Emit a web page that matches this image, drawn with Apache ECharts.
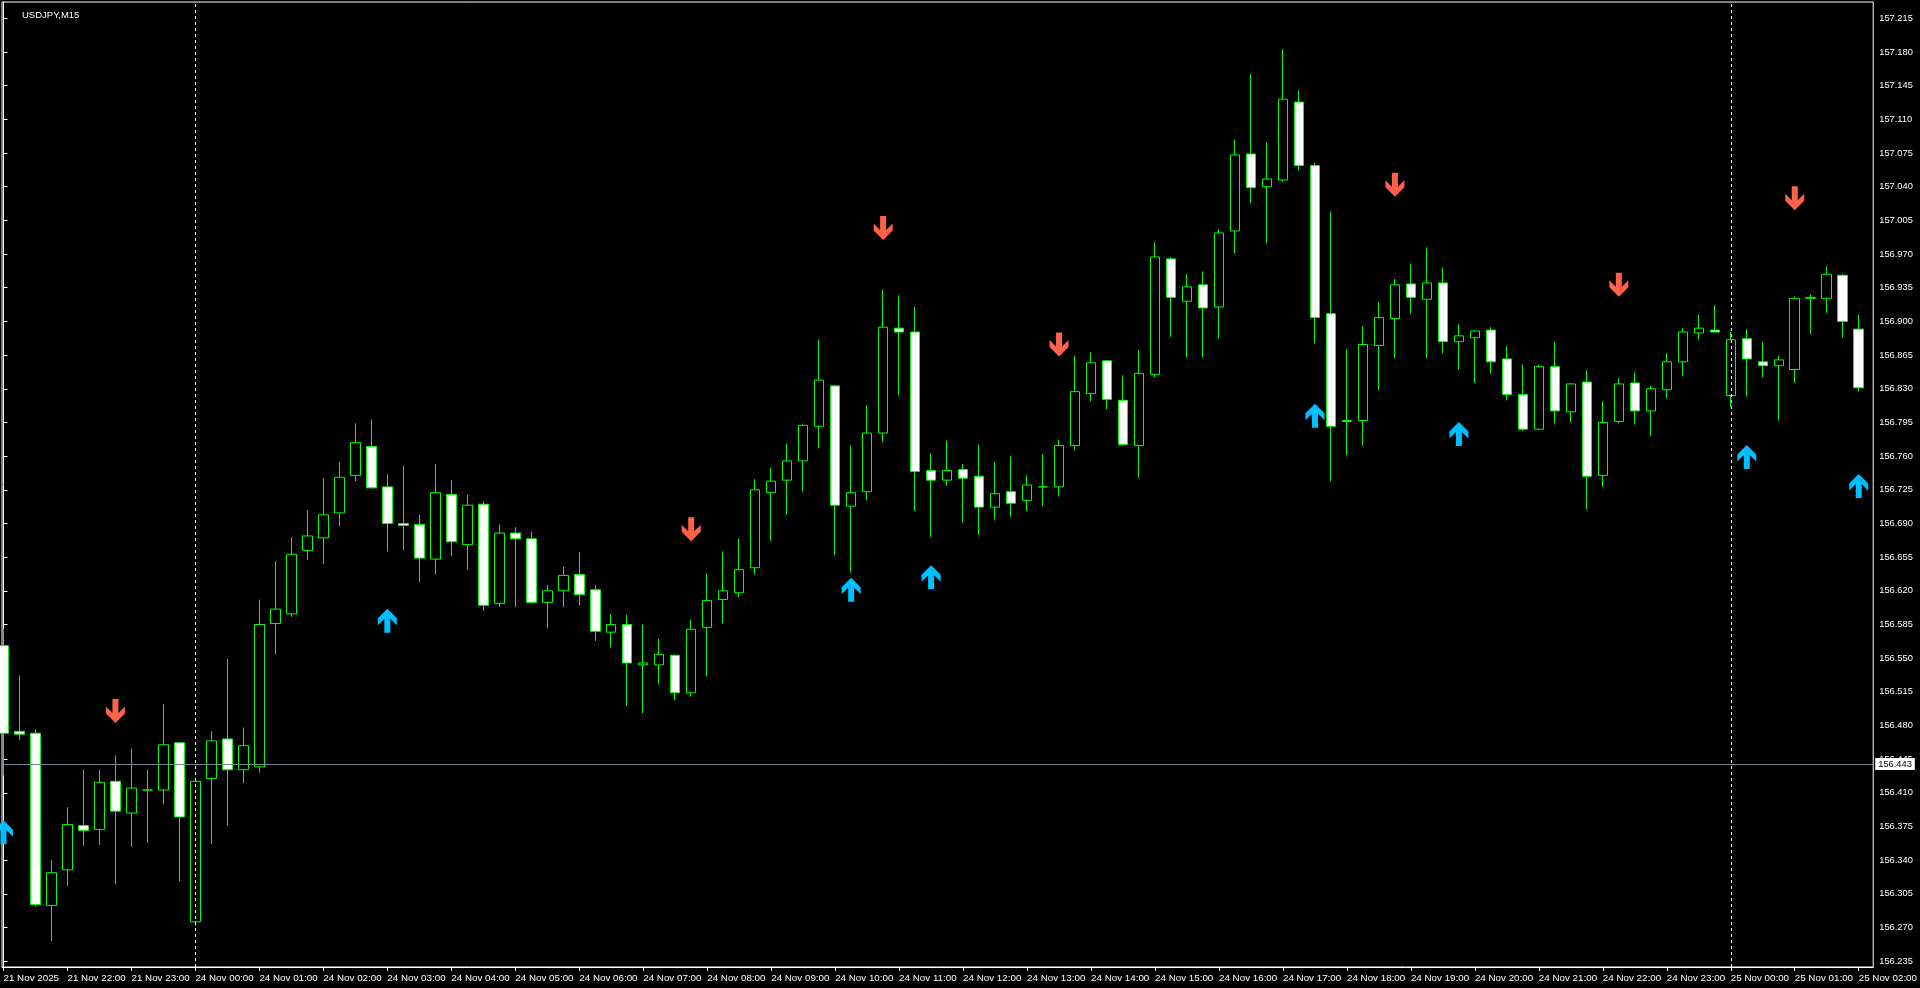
<!DOCTYPE html>
<html>
<head>
<meta charset="utf-8">
<script src="https://cdn.jsdelivr.net/npm/echarts@6/dist/echarts.min.js"></script>
<style>
html,body{margin:0;padding:0;background:#000;}
#chart{width:1920px;height:988px;}
</style>
</head>
<body>
<div id="chart"></div>
<script>
// ---- data (15-minute bars, index 0 = 21 Nov 21:00) ----
const opens = [156.563,156.474,156.472,156.293,156.330,156.376,156.372,156.422,156.389,156.413,
156.413,156.462,156.276,156.425,156.466,156.434,156.437,156.586,156.596,156.662,
156.675,156.701,156.740,156.770,156.728,156.690,156.689,156.653,156.720,156.668,
156.710,156.607,156.680,156.674,156.608,156.620,156.637,156.621,156.577,156.585,
156.543,156.543,156.553,156.514,156.582,156.611,156.618,156.644,156.722,156.735,
156.755,156.791,156.833,156.708,156.723,156.784,156.893,156.889,156.745,156.735,
156.746,156.739,156.707,156.723,156.714,156.728,156.728,156.771,156.825,156.859,
156.818,156.771,156.845,156.965,156.921,156.938,156.915,156.994,157.074,157.040,
157.047,157.128,157.062,156.908,156.796,156.797,156.875,156.903,156.939,156.923,
156.940,156.879,156.883,156.891,156.861,156.824,156.788,156.853,156.806,156.837,
156.740,156.796,156.836,156.807,156.829,156.858,156.888,156.891,156.823,156.882,
156.858,156.854,156.850,156.924,156.924,156.948,156.892];
const highs = [156.581,156.532,156.476,156.340,156.395,156.434,156.434,156.449,156.456,156.434,
156.502,156.463,156.425,156.474,156.549,156.478,156.611,156.651,156.676,156.704,
156.737,156.754,156.794,156.798,156.741,156.750,156.699,156.752,156.735,156.720,
156.713,156.689,156.686,156.681,156.626,156.645,156.660,156.626,156.596,156.595,
156.585,156.570,156.554,156.590,156.638,156.661,156.674,156.736,156.748,156.773,
156.793,156.881,156.834,156.771,156.813,156.933,156.927,156.915,156.763,156.776,
156.752,156.772,156.754,156.760,156.740,156.762,156.777,156.864,156.868,156.860,
156.844,156.870,156.982,156.967,156.949,156.952,156.996,157.089,157.157,157.086,
157.183,157.140,157.065,157.014,156.871,156.895,156.920,156.944,156.960,156.977,
156.956,156.897,156.891,156.894,156.874,156.855,156.855,156.879,156.836,156.849,
156.817,156.841,156.847,156.833,156.867,156.893,156.907,156.917,156.889,156.892,
156.879,156.864,156.926,156.928,156.957,156.949,156.907];
const lows = [156.428,156.465,156.292,156.256,156.313,156.355,156.356,156.315,156.354,156.358,
156.398,156.318,156.272,156.357,156.376,156.420,156.431,156.554,156.593,156.652,
156.648,156.687,156.734,156.726,156.661,156.662,156.629,156.637,156.656,156.642,
156.599,156.603,156.603,156.607,156.581,156.603,156.605,156.568,156.561,156.500,
156.493,156.523,156.506,156.510,156.531,156.586,156.613,156.637,156.672,156.699,
156.723,156.768,156.657,156.639,156.714,156.775,156.823,156.703,156.676,156.729,
156.691,156.678,156.694,156.697,156.703,156.708,156.718,156.766,156.817,156.809,
156.771,156.738,156.842,156.884,156.863,156.863,156.882,156.971,157.023,156.981,
157.045,157.057,156.877,156.734,156.761,156.771,156.829,156.862,156.908,156.862,
156.867,156.850,156.836,156.846,156.818,156.786,156.787,156.794,156.795,156.705,
156.728,156.794,156.793,156.781,156.820,156.843,156.881,156.889,156.811,156.822,
156.842,156.797,156.836,156.887,156.909,156.883,156.827];
const closes = [156.472,156.471,156.294,156.327,156.377,156.371,156.421,156.391,156.415,156.413,
156.460,156.385,156.422,156.464,156.434,156.459,156.585,156.601,156.658,156.677,
156.699,156.738,156.774,156.727,156.690,156.688,156.654,156.722,156.671,156.709,
156.605,156.680,156.674,156.608,156.620,156.636,156.616,156.578,156.585,156.545,
156.545,156.554,156.514,156.580,156.610,156.620,156.642,156.725,156.734,156.755,
156.792,156.839,156.709,156.722,156.784,156.894,156.889,156.744,156.735,156.745,
156.737,156.707,156.721,156.711,156.730,156.728,156.771,156.827,156.857,156.819,
156.772,156.846,156.967,156.925,156.936,156.914,156.992,157.073,157.039,157.048,
157.131,157.062,156.904,156.791,156.797,156.876,156.904,156.938,156.925,156.940,
156.879,156.885,156.890,156.858,156.824,156.788,156.853,156.807,156.835,156.739,
156.795,156.835,156.807,156.830,156.858,156.889,156.893,156.889,156.881,156.861,
156.854,156.860,156.924,156.925,156.949,156.900,156.831];

// signal arrows: [bar index, price]
const upArrows = [[0,156.369],[24,156.589],[53,156.621],[58,156.634],[82,156.802],[91,156.783],[109,156.759],[116,156.729]];
const downArrows = [[7,156.495],[43,156.684],[55,156.997],[66,156.876],[87,157.042],[101,156.938],[112,157.028]];

const bidPrice = 156.443;
const separators = [12, 108];

const xTickIndex = [0,4,8,12,16,20,24,28,32,36,40,44,48,52,56,60,64,68,72,76,80,84,88,92,96,100,104,108,112,116];
const xTickLabels = ["21 Nov 2025","21 Nov 22:00","21 Nov 23:00","24 Nov 00:00","24 Nov 01:00","24 Nov 02:00",
"24 Nov 03:00","24 Nov 04:00","24 Nov 05:00","24 Nov 06:00","24 Nov 07:00","24 Nov 08:00","24 Nov 09:00",
"24 Nov 10:00","24 Nov 11:00","24 Nov 12:00","24 Nov 13:00","24 Nov 14:00","24 Nov 15:00","24 Nov 16:00",
"24 Nov 17:00","24 Nov 18:00","24 Nov 19:00","24 Nov 20:00","24 Nov 21:00","24 Nov 22:00","24 Nov 23:00",
"25 Nov 00:00","25 Nov 01:00","25 Nov 02:00"];
const yTickValues = [156.235,156.270,156.305,156.340,156.375,156.410,156.445,156.480,156.515,156.550,
156.585,156.620,156.655,156.690,156.725,156.760,156.795,156.830,156.865,156.900,156.935,156.970,
157.005,157.040,157.075,157.110,157.145,157.180,157.215];
const yTickLabels = ["156.235","156.270","156.305","156.340","156.375","156.410","156.445","156.480","156.515","156.550",
"156.585","156.620","156.655","156.690","156.725","156.760","156.795","156.830","156.865","156.900","156.935","156.970",
"157.005","157.040","157.075","157.110","157.145","157.180","157.215"];

const FONT = '"Liberation Sans", Arial, sans-serif';
const xLabelMap = {};
xTickIndex.forEach((v, i) => { xLabelMap[v] = xTickLabels[i]; });

const candleData = opens.map((o, i) => [i, o, closes[i], lows[i], highs[i]]);

const upPath = 'path://M9.5,0 L19,9.5 L19,16.5 L12.5,10 L12.5,24 L6.5,24 L6.5,10 L0,16.5 L0,9.5 Z';
const downPath = 'path://M9.5,24 L19,14.5 L19,7.5 L12.5,14 L12.5,0 L6.5,0 L6.5,14 L0,7.5 L0,14.5 Z';

const chart = echarts.init(document.getElementById('chart'), null, {renderer: 'canvas'});
chart.setOption({
  animation: false,
  backgroundColor: '#000000',
  title: {
    text: 'USDJPY,M15', left: 17, top: 5,
    textStyle: {color: '#ffffff', fontSize: 9.5, fontWeight: 'normal', fontFamily: FONT}
  },
  grid: {left: 2, right: 46, top: 2, bottom: 21, show: true, borderColor: '#ffffff', borderWidth: 1, backgroundColor: 'transparent'},
  xAxis: {
    type: 'value', min: -0.09375, max: 116.90625,
    axisLine: {show: true, lineStyle: {color: '#ffffff', width: 1}},
    splitLine: {show: false},
    axisTick: {show: true, customValues: xTickIndex, length: 4, lineStyle: {color: '#ffffff'}},
    axisLabel: {
      customValues: xTickIndex, color: '#ffffff', fontSize: 9.8, fontFamily: FONT,
      align: 'left', margin: 6, hideOverlap: false,
      formatter: v => xLabelMap[Math.round(v)] || ''
    }
  },
  yAxis: {
    type: 'value', position: 'right', min: 156.229, max: 157.232,
    axisLine: {show: true, lineStyle: {color: '#ffffff', width: 1}},
    splitLine: {show: false},
    axisTick: {show: true, customValues: yTickValues, length: 4, lineStyle: {color: '#ffffff'}},
    axisLabel: {
      customValues: yTickValues, color: '#ffffff', fontSize: 9.3, fontFamily: FONT, margin: 6,
      formatter: v => {
        let best = 0, d = 1e9;
        yTickValues.forEach((t, i) => { if (Math.abs(t - v) < d) { d = Math.abs(t - v); best = i; } });
        return yTickLabels[best];
      }
    }
  },
  series: [
    {
      type: 'candlestick',
      data: candleData,
      barWidth: 10,
      itemStyle: {
        color: '#000000', color0: '#ffffff',
        borderColor: '#00ff00', borderColor0: '#00ff00', borderColorDoji: '#00ff00',
        borderWidth: 1
      },
      markLine: {
        silent: true, symbol: ['none', 'none'], animation: false,
        data: [
          {xAxis: separators[0], lineStyle: {color: '#ffffff', type: [3, 3], width: 1}, label: {show: false}},
          {xAxis: separators[1], lineStyle: {color: '#ffffff', type: [3, 3], width: 1}, label: {show: false}},
          {yAxis: bidPrice, lineStyle: {color: '#778899', type: 'solid', width: 1},
            label: {show: true, position: 'end', distance: 2, formatter: bidPrice.toFixed(3),
              color: '#000000', backgroundColor: '#ffffff', padding: [2, 3, 1, 3],
              fontSize: 9.3, fontFamily: FONT}}
        ]
      }
    },
    {
      type: 'scatter', data: upArrows, symbol: upPath, symbolSize: [19, 24],
      itemStyle: {color: '#00bfff', opacity: 1}, z: 5
    },
    {
      type: 'scatter', data: downArrows, symbol: downPath, symbolSize: [19, 24],
      itemStyle: {color: '#ff6347', opacity: 1}, z: 5
    }
  ]
});
</script>
</body>
</html>
